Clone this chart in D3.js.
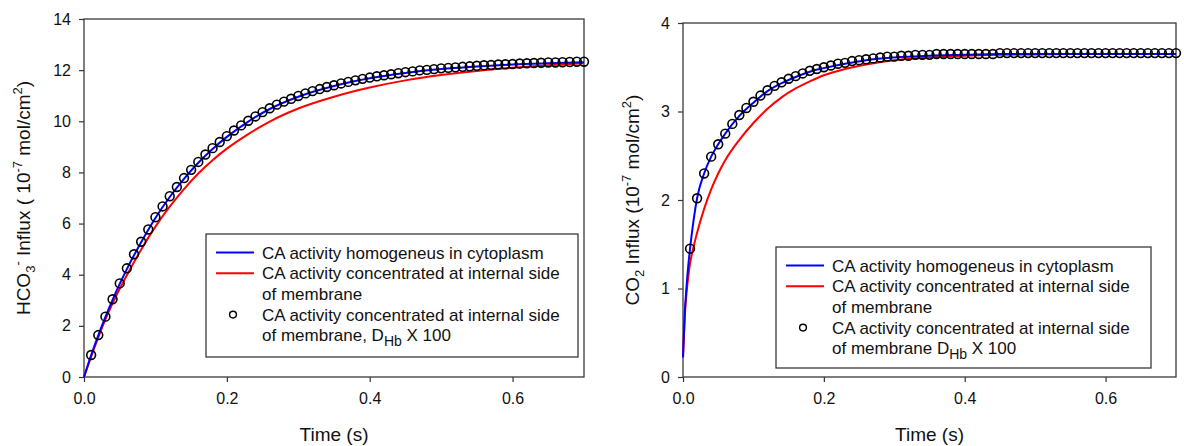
<!DOCTYPE html>
<html>
<head>
<meta charset="utf-8">
<script src="https://cdn.jsdelivr.net/npm/d3@7"></script>
<style>
  body { margin: 0; background: #fff; }
  svg { display: block; font-family: Arial, 'Liberation Sans', sans-serif; }
  .axis line { stroke: #333; stroke-width: 1.2; }
  .axis text { font-size: 16px; fill: #111; font-family: Arial, 'Liberation Sans', sans-serif; }
</style>
</head>
<body>
<svg id="chart" width="1184" height="446"></svg>
<script>
// sampled times of the D_Hb x 100 runs (open circles)
var circleTimes = [
  0.01, 0.02, 0.03, 0.04, 0.05, 0.06, 0.07, 0.08, 0.09, 0.10,
  0.11, 0.12, 0.13, 0.14, 0.15, 0.16, 0.17, 0.18, 0.19, 0.20,
  0.21, 0.22, 0.23, 0.24, 0.25, 0.26, 0.27, 0.28, 0.29, 0.30,
  0.31, 0.32, 0.33, 0.34, 0.35, 0.36, 0.37, 0.38, 0.39, 0.40,
  0.41, 0.42, 0.43, 0.44, 0.45, 0.46, 0.47, 0.48, 0.49, 0.50,
  0.51, 0.52, 0.53, 0.54, 0.55, 0.56, 0.57, 0.58, 0.59, 0.60,
  0.61, 0.62, 0.63, 0.64, 0.65, 0.66, 0.67, 0.68, 0.69, 0.70
]

// HCO3- influx (10^-7 mol/cm2)
var hco3Circles = [
  0.86, 1.64, 2.36, 3.04, 3.66, 4.25, 4.80, 5.29, 5.77, 6.25,
  6.67, 7.07, 7.43, 7.78, 8.10, 8.41, 8.70, 8.95, 9.19, 9.42,
  9.64, 9.84, 10.02, 10.19, 10.36, 10.51, 10.65, 10.77, 10.88, 10.99,
  11.09, 11.18, 11.26, 11.34, 11.41, 11.48, 11.54, 11.60, 11.66, 11.71,
  11.76, 11.80, 11.84, 11.88, 11.92, 11.95, 11.99, 12.01, 12.04, 12.07,
  12.09, 12.11, 12.13, 12.15, 12.17, 12.19, 12.20, 12.22, 12.23, 12.24,
  12.26, 12.27, 12.28, 12.29, 12.30, 12.30, 12.31, 12.32, 12.33, 12.33
]
var hco3Times = [0, 0.01, 0.02, 0.03, 0.04, 0.05, 0.06, 0.08, 0.10, 0.12, 0.14, 0.16, 0.18, 0.20,
  0.23, 0.26, 0.30, 0.35, 0.40, 0.45, 0.50, 0.55, 0.60, 0.65, 0.70]
var hco3Homog = [0, 0.85, 1.63, 2.35, 3.02, 3.64, 4.22, 5.27, 6.22, 7.04, 7.75, 8.38, 8.92, 9.39,
  9.99, 10.48, 10.96, 11.38, 11.68, 11.89, 12.04, 12.14, 12.22, 12.27, 12.31]
var hco3Membrane = [0, 0.80, 1.55, 2.25, 2.88, 3.45, 3.98, 4.98, 5.88, 6.66, 7.35, 7.96, 8.48, 8.93,
  9.50, 9.99, 10.50, 10.96, 11.32, 11.60, 11.81, 11.97, 12.09, 12.19, 12.27]

// CO2 influx (10^-7 mol/cm2)
var co2Circles = [
  1.45, 2.02, 2.30, 2.49, 2.63, 2.75, 2.86, 2.96, 3.04, 3.11,
  3.18, 3.24, 3.29, 3.33, 3.37, 3.40, 3.43, 3.46, 3.48, 3.50,
  3.52, 3.54, 3.55, 3.57, 3.58, 3.59, 3.60, 3.61, 3.62, 3.62,
  3.63, 3.63, 3.64, 3.64, 3.64, 3.65, 3.65, 3.65, 3.65, 3.65,
  3.65, 3.65, 3.65, 3.65, 3.66, 3.66, 3.66, 3.66, 3.66, 3.66,
  3.66, 3.66, 3.66, 3.66, 3.66, 3.66, 3.66, 3.66, 3.66, 3.66,
  3.66, 3.66, 3.66, 3.66, 3.66, 3.66, 3.66, 3.66, 3.66, 3.66
]
var co2Times = [0, 0.0025, 0.005, 0.0075, 0.01, 0.015, 0.02, 0.03, 0.04, 0.05, 0.06, 0.08, 0.10,
  0.12, 0.14, 0.16, 0.18, 0.20, 0.23, 0.26, 0.30, 0.35, 0.40, 0.45, 0.50, 0.55, 0.60, 0.65, 0.70]
var co2Homog = [0.22, 0.72, 1.02, 1.26, 1.45, 1.77, 2.02, 2.30, 2.49, 2.63, 2.75, 2.95, 3.10,
  3.23, 3.32, 3.39, 3.45, 3.49, 3.54, 3.58, 3.61, 3.63, 3.64, 3.65, 3.65, 3.65, 3.65, 3.65, 3.65]
var co2Membrane = [0.23, 0.68, 0.95, 1.13, 1.28, 1.47, 1.63, 1.90, 2.12, 2.30, 2.45, 2.68, 2.87,
  3.03, 3.16, 3.26, 3.34, 3.41, 3.48, 3.53, 3.58, 3.61, 3.63, 3.64, 3.645, 3.65, 3.65, 3.65, 3.65]

var xTicks = [0, 0.2, 0.4, 0.6]
var hco3Ticks = [0, 2, 4, 6, 8, 10, 12, 14]
var co2Ticks = [0, 1, 2, 3, 4]

var svg = d3.select('#chart')

// y label pieces: [text, shift] where shift is sub / sup / normal
var hco3Label = [['HCO', 0], ['3', 1], ['-', -1], [' Influx ( 10', 0], ['-7', -1], [' mol/cm', 0], ['2', -1], [')', 0]]
var co2Label = [['CO', 0], ['2', 1], [' Influx (10', 0], ['-7', -1], [' mol/cm', 0], ['2', -1], [')', 0]]

drawPanel({
  left: 84, top: 19, width: 500, height: 358,
  yMax: 14, yTicks: hco3Ticks,
  circles: hco3Circles, lineTimes: hco3Times, homog: hco3Homog, membrane: hco3Membrane,
  label: hco3Label, labelX: 30,
  legend: { x: 206, y: 234, w: 372, h: 123, comma: ',' }
})

drawPanel({
  left: 683, top: 23, width: 493, height: 354,
  yMax: 4, yTicks: co2Ticks,
  circles: co2Circles, lineTimes: co2Times, homog: co2Homog, membrane: co2Membrane,
  label: co2Label, labelX: 639,
  legend: { x: 776, y: 247, w: 375, h: 121, comma: '' }
})

function drawPanel (props) {
  var x = d3.scaleLinear().domain([0, 0.7]).range([0, props.width])
  var y = d3.scaleLinear().domain([0, props.yMax]).range([props.height, 0])

  var g = svg.append('g')
    .attr('transform', 'translate(' + props.left + ',' + props.top + ')')

  g.append('g')
    .attr('class', 'axis')
    .attr('transform', 'translate(0,' + props.height + ')')
    .call(d3.axisBottom(x).tickValues(xTicks).tickFormat(d3.format('.1f')).tickSize(5).tickSizeOuter(0).tickPadding(11))
    .call(function (a) { a.select('.domain').remove() })

  g.append('g')
    .attr('class', 'axis')
    .call(d3.axisLeft(y).tickValues(props.yTicks).tickFormat(d3.format('d')).tickSize(5).tickSizeOuter(0).tickPadding(8))
    .call(function (a) { a.select('.domain').remove() })

  g.append('rect')
    .attr('width', props.width)
    .attr('height', props.height)
    .attr('fill', 'none')
    .attr('stroke', '#3a3a3a')
    .attr('stroke-width', 1.3)

  var line = d3.line()
    .x(function (d) { return x(d[0]) })
    .y(function (d) { return y(d[1]) })
    .curve(d3.curveMonotoneX)

  g.append('path')
    .datum(d3.zip(props.lineTimes, props.membrane))
    .attr('d', line)
    .attr('fill', 'none')
    .attr('stroke', '#ff0000')
    .attr('stroke-width', 2)

  g.append('path')
    .datum(d3.zip(props.lineTimes, props.homog))
    .attr('d', line)
    .attr('fill', 'none')
    .attr('stroke', '#0000ff')
    .attr('stroke-width', 2)

  g.selectAll('.dot')
    .data(d3.zip(circleTimes, props.circles))
    .enter()
    .append('circle')
    .attr('class', 'dot')
    .attr('cx', function (d) { return x(d[0]) })
    .attr('cy', function (d) { return y(d[1]) })
    .attr('r', 4.4)
    .attr('fill', 'none')
    .attr('stroke', '#000')
    .attr('stroke-width', 1.6)

  // axis titles
  svg.append('text')
    .attr('x', props.left + props.width / 2)
    .attr('y', 441)
    .attr('text-anchor', 'middle')
    .style('font-size', '19px')
    .attr('fill', '#111')
    .text('Time (s)')

  var lab = svg.append('text')
    .attr('transform', 'translate(' + props.labelX + ',' + (props.top + props.height / 2) + ') rotate(-90)')
    .attr('text-anchor', 'middle')
    .style('font-size', '19px')
    .attr('fill', '#111')
  var level = 0
  props.label.forEach(function (p) {
    var target = p[1] === 1 ? 5 : (p[1] === -1 ? -8 : 0)
    lab.append('tspan')
      .attr('dy', target - level)
      .style('font-size', p[1] === 0 ? '19px' : '13px')
      .text(p[0])
    level = target
  })

  drawLegend(props.legend)
}

function drawLegend (lg) {
  var g = svg.append('g')
    .attr('transform', 'translate(' + lg.x + ',' + lg.y + ')')
    .style('font-size', '17px')
    .attr('fill', '#111')

  g.append('rect')
    .attr('width', lg.w)
    .attr('height', lg.h)
    .attr('fill', '#fff')
    .attr('stroke', '#3a3a3a')
    .attr('stroke-width', 1.3)

  var base = [24.5, 45.2, 65.9, 86.6, 107.3]

  g.append('line').attr('x1', 10).attr('x2', 48).attr('y1', base[0] - 6).attr('y2', base[0] - 6)
    .attr('stroke', '#0000ff').attr('stroke-width', 2)
  g.append('line').attr('x1', 10).attr('x2', 48).attr('y1', base[1] - 6).attr('y2', base[1] - 6)
    .attr('stroke', '#ff0000').attr('stroke-width', 2)
  g.append('circle').attr('cx', 27).attr('cy', base[3] - 6).attr('r', 3.4)
    .attr('fill', 'none').attr('stroke', '#000').attr('stroke-width', 1.4)

  var rows = [
    'CA activity homogeneus in cytoplasm',
    'CA activity concentrated at internal side',
    'of membrane',
    'CA activity concentrated at internal side'
  ]
  rows.forEach(function (r, i) {
    g.append('text').attr('x', 56).attr('y', base[i]).text(r)
  })

  var last = g.append('text').attr('x', 56).attr('y', base[4])
  last.append('tspan').text('of membrane' + lg.comma + ' D')
  last.append('tspan').attr('dy', 5).style('font-size', '14px').text('Hb')
  last.append('tspan').attr('dy', -5).text(' X 100')
}
</script>
</body>
</html>
